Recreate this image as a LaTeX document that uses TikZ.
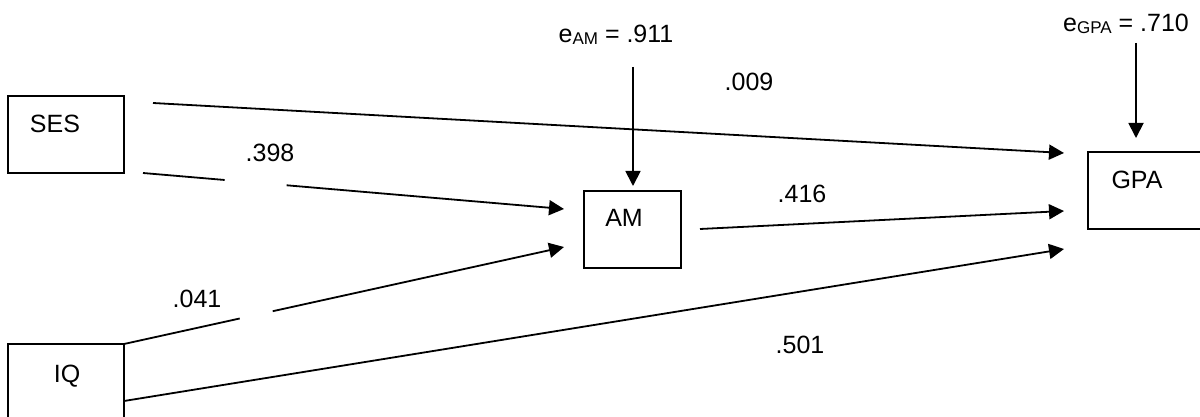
\documentclass[tikz,border=0pt]{standalone}
\usepackage{fontspec}
\setmainfont{Liberation Sans}
\usetikzlibrary{arrows.meta,calc}
\begin{document}
\begin{tikzpicture}[x=0.5pt,y=-0.5pt,
  box/.style={draw,line width=0.9pt,inner sep=0pt,outer sep=0pt,anchor=north west,minimum height=38.5pt},
  lbl/.style={inner sep=0pt,anchor=base,font=\fontsize{12.5}{15}\selectfont},
  con/.style={line width=0.9pt},
  arr/.style={line width=0.9pt,-{Triangle[length=7.5pt,width=7.5pt]}}]
\useasboundingbox (0,0) rectangle (1200,417);
% boxes
\node[box,minimum width=58pt] (ses) at (8,96) {};
\node[box,minimum width=58pt] (iq) at (8,344) {};
\node[box,minimum width=48.5pt] (am) at (584,191) {};
\node[box,minimum width=58pt] (gpa) at (1088,152) {};
% box texts
\node[lbl] (sesT) at (55,133) {SES};
\node[lbl] (iqT) at (67,382) {IQ};
\node[lbl] (amT) at (624,227) {AM};
\node[lbl] (gpaT) at (1137,189) {GPA};
% error terms
\newcommand{\subtxt}[1]{\raisebox{-1pt}{\fontsize{8.5}{10}\selectfont #1}}
\node[lbl] (eam) at (616,43) {e\subtxt{AM} = .911};
\node[lbl] (egpa) at (1126,32) {e\subtxt{GPA} = .710};
% coefficients
\node[lbl] (c009) at (749,91) {.009};
\node[lbl] (c398) at (270,162) {.398};
\node[lbl] (c416) at (802,202) {.416};
\node[lbl] (c041) at (197,307) {.041};
\node[lbl] (c501) at (800,353) {.501};
% connector end points
\coordinate (sesA) at (153,103);
\coordinate (sesB) at (143,173);
\coordinate (iqA) at (124,344);
\coordinate (iqB) at (124,401);
\coordinate (amOut) at (700,229);
\coordinate (amIn1) at (564,209);
\coordinate (amIn2) at (564,247);
\coordinate (gpaIn1) at (1064,153);
\coordinate (gpaIn2) at (1064,211);
\coordinate (gpaIn3) at (1064,249);
\coordinate (eamS) at (633,67);
\coordinate (eamE) at (633,186);
\coordinate (egpaS) at (1136,43);
\coordinate (egpaE) at (1136,138);
% connectors
\draw[arr] (sesA) -- (gpaIn1);
\draw[con] (sesB) -- ($(sesB)!0.194!(amIn1)$);
\draw[arr] ($(sesB)!0.341!(amIn1)$) -- (amIn1);
\draw[con] (iqA) -- ($(iqA)!0.263!(amIn2)$);
\draw[arr] ($(iqA)!0.338!(amIn2)$) -- (amIn2);
\draw[arr] (amOut) -- (gpaIn2);
\draw[arr] (iqB) -- (gpaIn3);
\draw[arr] (eamS) -- (eamE);
\draw[arr] (egpaS) -- (egpaE);
\end{tikzpicture}
\end{document}
